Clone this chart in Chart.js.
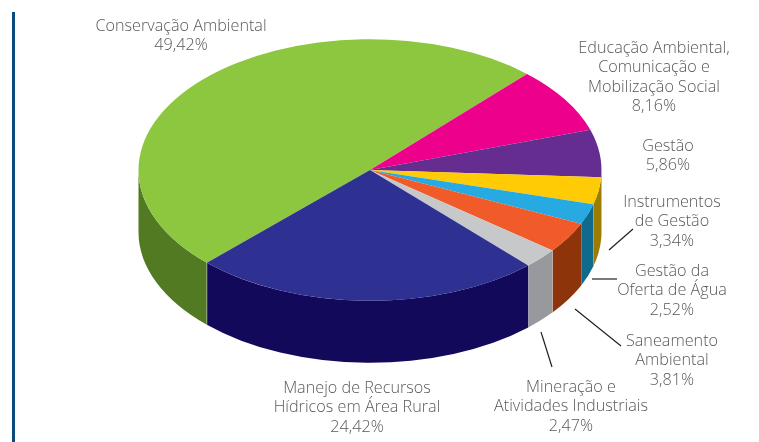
<!DOCTYPE html>
<html>
<head>
<meta charset="utf-8">
<script src="https://cdn.jsdelivr.net/npm/chart.js@4"></script>
<style>
html, body { margin: 0; padding: 0; background: #fff; }
#wrap { position: relative; width: 759px; height: 442px; overflow: hidden; }
#bar { position: absolute; left: 12px; top: 12px; width: 3px; height: 430px; background: #0b4a7d; }
</style>
</head>
<body>
<div id="wrap">
<div id="bar"></div>
<canvas id="pie" width="759" height="442"></canvas>
</div>
<script>
const categories = [
    "Conservação Ambiental",
    "Educação Ambiental, Comunicação e Mobilização Social",
    "Gestão",
    "Instrumentos de Gestão",
    "Gestão da Oferta de Água",
    "Saneamento Ambiental",
    "Mineração e Atividades Industriais",
    "Manejo de Recursos Hídricos em Área Rural"
];
const shares = [49.42, 8.16, 5.86, 3.34, 2.52, 3.81, 2.47, 24.42];
const topColors = ["#8dc63f", "#ec008c", "#662d91", "#ffcb05", "#27aae1", "#f15a29", "#c7c8ca", "#2e3192"];
const wallColors = ["#527a23", "#8f0055", "#3d1b57", "#9c7c03", "#0f6a8e", "#8e340b", "#98999c", "#12095a"];
const labelLines = [
    ["Conservação Ambiental", "49,42%"],
    ["Educação Ambiental,", "Comunicação e", "Mobilização Social", "8,16%"],
    ["Gestão", "5,86%"],
    ["Instrumentos", "de Gestão", "3,34%"],
    ["Gestão da", "Oferta de Água", "2,52%"],
    ["Saneamento", "Ambiental", "3,81%"],
    ["Mineração e", "Atividades Industriais", "2,47%"],
    ["Manejo de Recursos", "Hídricos em Área Rural", "24,42%"]
];

const labelAnchors = [[181, 26], [654, 48], [668, 146], [672, 202], [672, 271], [672, 341], [571, 387], [357, 388]];
const leaders = [null, null, null, [[633, 229], [609, 250]], [[617, 279], [592, 279]], [[621, 346], [575, 309]], [[552, 367], [541, 332]], null];
const squash = 0.565;
const depth = 62;

// the doughnut controller only knows circles, so the flattening and the side wall are done here
const tilt = {
    id: "tilt",
    beforeDatasetsDraw(chart) {
        const ctx = chart.ctx;
        const arcs = chart.getDatasetMeta(0).data;
        const cx = arcs[0].x, cy = arcs[0].y, r = arcs[0].outerRadius;
        ctx.save();
        arcs.forEach((arc, i) => {
            let a0 = arc.startAngle, a1 = arc.endAngle;
            // keep only the part of the rim that faces the viewer
            for (const turn of [-2 * Math.PI, 0, 2 * Math.PI]) {
                const s = Math.max(a0 + turn, 0), e = Math.min(a1 + turn, Math.PI);
                if (e <= s) continue;
                ctx.beginPath();
                ctx.ellipse(cx, cy, r, r * squash, 0, s, e);
                ctx.ellipse(cx, cy + depth, r, r * squash, 0, e, s, true);
                ctx.closePath();
                ctx.fillStyle = wallColors[i];
                ctx.fill();
                // faint seam where two walls meet
                const x = cx + r * Math.cos(e), y = cy + r * squash * Math.sin(e);
                ctx.beginPath();
                ctx.moveTo(x, y);
                ctx.lineTo(x, y + depth);
                ctx.strokeStyle = "rgba(255,255,255,0.45)";
                ctx.lineWidth = 1;
                if (e < Math.PI) ctx.stroke();
            }
        });
        ctx.restore();
        ctx.save();
        ctx.translate(cx, cy);
        ctx.scale(1, squash);
        ctx.translate(-cx, -cy);
    },
    afterDatasetsDraw(chart) {
        chart.ctx.restore();
    },
    afterDraw(chart) {
        const ctx = chart.ctx;
        ctx.save();
        ctx.fillStyle = "#58595b";
        ctx.strokeStyle = "#222";
        ctx.lineWidth = 1.2;
        ctx.font = "300 16.2px 'Open Sans'";
        ctx.textAlign = "center";
        ctx.textBaseline = "middle";
        labelLines.forEach((lines, i) => {
            lines.forEach((t, j) => ctx.fillText(t, labelAnchors[i][0], labelAnchors[i][1] + j * 19.5));
            if (leaders[i]) {
                ctx.beginPath();
                ctx.moveTo(leaders[i][0][0], leaders[i][0][1]);
                ctx.lineTo(leaders[i][1][0], leaders[i][1][1]);
                ctx.stroke();
            }
        });
        ctx.restore();
    }
};

new Chart(document.getElementById("pie").getContext("2d"), {
    type: "pie",
    data: {
        labels: categories,
        datasets: [{
            data: shares,
            backgroundColor: topColors,
            borderWidth: 0,
            clip: false
        }]
    },
    options: {
        responsive: false,
        animation: false,
        devicePixelRatio: 1,
        rotation: -135.2,
        radius: 231.5,
        layout: { padding: { left: 0, right: 19, top: 0, bottom: 102 } },
        plugins: { legend: { display: false }, tooltip: { enabled: false } }
    },
    plugins: [tilt]
});
</script>
</body>
</html>
